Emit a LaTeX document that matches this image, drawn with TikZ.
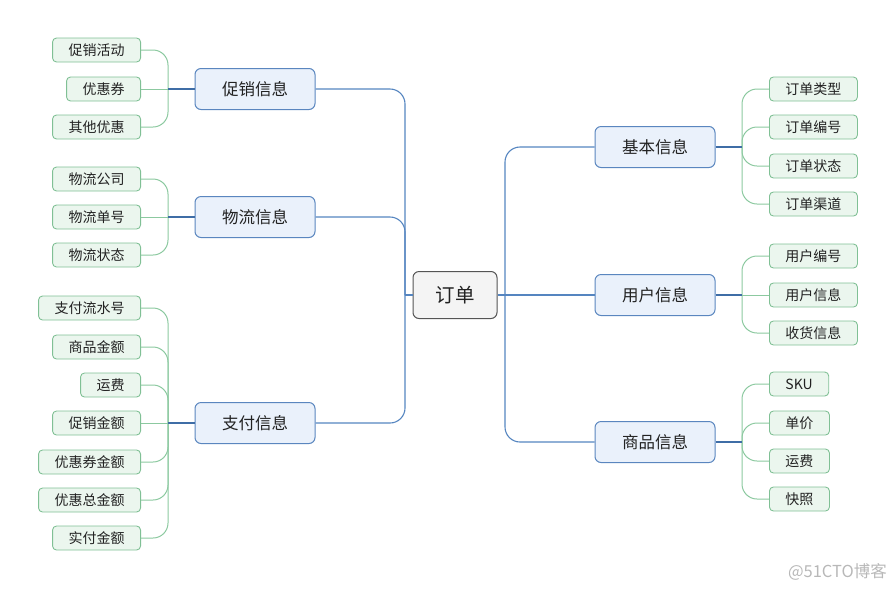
\documentclass[tikz,border=0pt]{standalone}
\usepackage{fontspec}
\setmainfont{Noto Sans CJK SC}
\definecolor{topicfill}{HTML}{EAF1FB}
\definecolor{topicdraw}{HTML}{5A86BF}
\definecolor{trunkc}{HTML}{5585C0}
\definecolor{stubc}{HTML}{3F6DA6}
\definecolor{leaffill}{HTML}{EBF6EE}
\definecolor{leafdraw}{HTML}{80C095}
\definecolor{twigc}{HTML}{8CC9A0}
\definecolor{rootfill}{HTML}{F4F4F4}
\definecolor{rootdraw}{HTML}{555555}
\definecolor{txt}{HTML}{222222}
\begin{document}
\begin{tikzpicture}[x=1pt,y=-1pt,
  rootbox/.style={draw=rootdraw,fill=rootfill,rounded corners=6pt,line width=1pt,
    minimum width=84pt,minimum height=47pt,inner sep=0pt,font=\fontsize{19.5}{22}\selectfont,text=txt},
  topicbox/.style={draw=topicdraw,fill=topicfill,rounded corners=6pt,line width=1pt,
    minimum width=120pt,minimum height=41pt,inner sep=0pt,font=\fontsize{16.5}{19}\selectfont,text=txt},
  leafbox/.style={draw=leafdraw,fill=leaffill,rounded corners=4pt,line width=0.9pt,
    minimum height=24pt,inner xsep=16pt,inner ysep=0pt,font=\fontsize{14}{16}\selectfont,text=txt},
  leafL/.style={leafbox,anchor=east},
  leafR/.style={leafbox,anchor=west},
  trunk/.style={draw=trunkc,line width=1.1pt,rounded corners=15pt},
  stub/.style={draw=stubc,line width=1.1pt},
  twig/.style={draw=twigc,line width=1pt,rounded corners=15pt}]
\useasboundingbox (0,0) rectangle (896,590);

% root and topics
\node[rootbox] (c) at (455,295) {订单};
\node[topicbox] (p1) at (255,89) {促销信息};
\node[topicbox] (p2) at (255,217) {物流信息};
\node[topicbox] (p3) at (255,423) {支付信息};
\node[topicbox] (q1) at (655,147) {基本信息};
\node[topicbox] (q2) at (655,295) {用户信息};
\node[topicbox] (q3) at (655,442) {商品信息};

% trunk connectors
\coordinate (jl) at (405,295);
\coordinate (jr) at (505,295);
\draw[trunk] (c.west) -- (jl);
\draw[trunk] (jl) |- (p1.east);
\draw[trunk] (jl) |- (p2.east);
\draw[trunk] (jl) |- (p3.east);
\draw[trunk] (c.east) -- (q2.west);
\draw[trunk] (jr) |- (q1.west);
\draw[trunk] (jr) |- (q3.west);

% leaves left
\node[leafL] (a1) at (141,50) {促销活动};
\node[leafL] (a2) at (141,89) {优惠券};
\node[leafL] (a3) at (141,127) {其他优惠};
\node[leafL] (b1) at (141,179) {物流公司};
\node[leafL] (b2) at (141,217) {物流单号};
\node[leafL] (b3) at (141,255) {物流状态};
\node[leafL] (d1) at (141,308) {支付流水号};
\node[leafL] (d2) at (141,347) {商品金额};
\node[leafL] (d3) at (141,385) {运费};
\node[leafL] (d4) at (141,423) {促销金额};
\node[leafL] (d5) at (141,462) {优惠券金额};
\node[leafL] (d6) at (141,500) {优惠总金额};
\node[leafL] (d7) at (141,538) {实付金额};

% leaves right
\node[leafR] (e1) at (769,89) {订单类型};
\node[leafR] (e2) at (769,127) {订单编号};
\node[leafR] (e3) at (769,166) {订单状态};
\node[leafR] (e4) at (769,204) {订单渠道};
\node[leafR] (f1) at (769,256) {用户编号};
\node[leafR] (f2) at (769,295) {用户信息};
\node[leafR] (f3) at (769,333) {收货信息};
\node[leafR] (g1) at (769,384) {SKU};
\node[leafR] (g2) at (769,423) {单价};
\node[leafR] (g3) at (769,461) {运费};
\node[leafR] (g4) at (769,499) {快照};

% junctions
\coordinate (ja) at (168,89);
\coordinate (jb) at (168,217);
\coordinate (jd) at (168,423);
\coordinate (je) at (742,147);
\coordinate (jf) at (742,295);
\coordinate (jg) at (742,442);

% twigs left
\draw[twig] (ja) |- (a1.east);
\draw[twig] (ja) -- (a2.east);
\draw[twig] (ja) |- (a3.east);
\draw[twig] (jb) |- (b1.east);
\draw[twig] (jb) -- (b2.east);
\draw[twig] (jb) |- (b3.east);
\draw[twig] (jd) |- (d1.east);
\draw[twig] (jd) |- (d2.east);
\draw[twig] (jd) |- (d3.east);
\draw[twig] (jd) -- (d4.east);
\draw[twig] (jd) |- (d5.east);
\draw[twig] (jd) |- (d6.east);
\draw[twig] (jd) |- (d7.east);
% twigs right
\draw[twig] (je) |- (e1.west);
\draw[twig] (je) |- (e2.west);
\draw[twig] (je) |- (e3.west);
\draw[twig] (je) |- (e4.west);
\draw[twig] (jf) |- (f1.west);
\draw[twig] (jf) -- (f2.west);
\draw[twig] (jf) |- (f3.west);
\draw[twig] (jg) |- (g1.west);
\draw[twig] (jg) |- (g2.west);
\draw[twig] (jg) |- (g3.west);
\draw[twig] (jg) |- (g4.west);

% stubs from topics to junctions
\draw[stub] (p1.west) -- (ja);
\draw[stub] (p2.west) -- (jb);
\draw[stub] (p3.west) -- (jd);
\draw[stub] (q1.east) -- (je);
\draw[stub] (q2.east) -- (jf);
\draw[stub] (q3.east) -- (jg);

% watermark
\node[anchor=east,text=black!28,font=\fontsize{16.5}{19}\selectfont,inner sep=0pt] (wm) at (887,572) {@51CTO博客};
\end{tikzpicture}
\end{document}
